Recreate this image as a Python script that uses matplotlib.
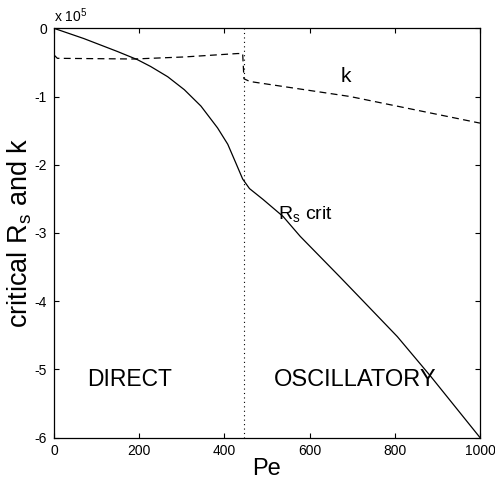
import numpy as np
import matplotlib
matplotlib.use("Agg")
import matplotlib.pyplot as plt

plt.rcParams['font.family'] = ['Liberation Sans', 'DejaVu Sans']
plt.rcParams['mathtext.fontset'] = 'custom'
plt.rcParams['mathtext.rm'] = 'Liberation Sans'
plt.rcParams['mathtext.it'] = 'Liberation Sans'

# critical solutal Rayleigh number (units of 1e5) vs Peclet number
pe_rs = [0, 70, 149, 196, 227, 267, 306, 345, 384, 408, 428, 443, 459,
         491, 538, 578, 625, 672, 726, 806, 884, 1000]
rs_crit = [0, -0.15, -0.34, -0.46, -0.56, -0.71, -0.90, -1.14, -1.46, -1.70,
           -1.99, -2.21, -2.35, -2.51, -2.76, -3.05, -3.35, -3.65, -4.00,
           -4.52, -5.10, -6.0]

# critical wavenumber k (same axis)
pe_k = [0, 8, 188, 306, 431, 443, 446, 460, 695, 1000]
k_crit = [-0.39, -0.44, -0.45, -0.42, -0.37, -0.37, -0.74, -0.78, -1.00, -1.39]

pe_switch = 447  # direct -> oscillatory onset

x_ticks = [0, 200, 400, 600, 800, 1000]
y_ticks = [-6, -5, -4, -3, -2, -1, 0]

fig = plt.figure(figsize=(4.95, 4.79), dpi=100)
ax = fig.add_axes([0.109, 0.0866, 0.8606, 0.8543])

ax.plot(pe_rs, rs_crit, color='black', lw=0.9)
ax.plot(pe_k, k_crit, color='black', lw=0.9, dashes=(5.5, 3.5))
ax.axvline(pe_switch, color='black', lw=0.8, dashes=(1, 3))

ax.set_xlim(0, 1000)
ax.set_ylim(-6, 0)
ax.set_xticks(x_ticks)
ax.set_yticks(y_ticks)
ax.set_yticklabels([str(v) for v in y_ticks])
ax.tick_params(direction='in', length=3.5, width=0.8, top=True, right=True,
               labelsize=10, pad=5)
for s in ax.spines.values():
    s.set_linewidth(0.9)

ax.set_xlabel('Pe', fontsize=17, labelpad=0)
ax.set_ylabel(r'critical $\mathregular{R_s}$ and k', fontsize=19.5, labelpad=0.5)

ax.text(0.0, 1.008, r'x 10$^{5}$', transform=ax.transAxes, fontsize=10,
        ha='left', va='bottom')

ax.text(673, -0.78, 'k', fontsize=15)
ax.text(525, -2.79, r'$\mathregular{R_s}$ crit', fontsize=14)
ax.text(78, -5.24, 'DIRECT', fontsize=16.5)
ax.text(517, -5.24, 'OSCILLATORY', fontsize=17)

fig.savefig('out.png', dpi=100)
